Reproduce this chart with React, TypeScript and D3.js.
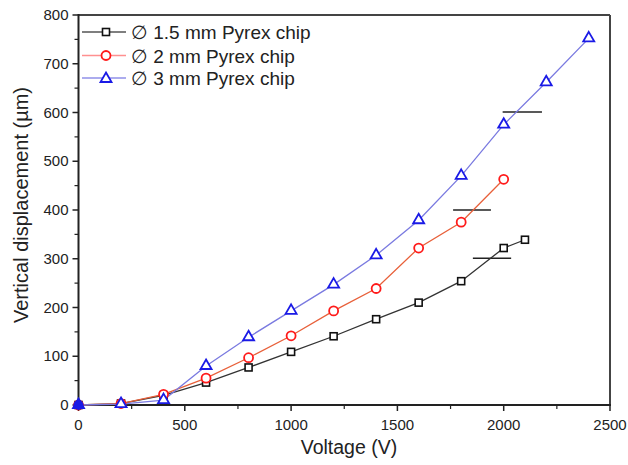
import React from "react";
import * as d3 from "d3";

const voltage15 = [0, 200, 400, 600, 800, 1000, 1200, 1400, 1600, 1800, 2000, 2100];
const disp15 = [0, 3, 20, 46, 77, 109, 141, 176, 210, 254, 322, 339];
const voltage2 = [0, 200, 400, 600, 800, 1000, 1200, 1400, 1600, 1800, 2000];
const disp2 = [0, 3, 22, 55, 97, 142, 193, 239, 322, 375, 463];
const voltage3 = [0, 200, 400, 600, 800, 1000, 1200, 1400, 1600, 1800, 2000, 2200, 2400];
const disp3 = [0, 2, 10, 80, 139, 193, 247, 307, 379, 470, 575, 662, 752];
const seriesNames = ["\u2205 1.5 mm Pyrex chip", "\u2205 2 mm Pyrex chip", "\u2205 3 mm Pyrex chip"];
// annotation bars: [x0, x1, y]
const markBars = [
  [1855, 2035, 301],
  [1762, 1940, 400],
  [1995, 2180, 601],
];
const xTicks = [0, 500, 1000, 1500, 2000, 2500];
const yTicks = [0, 100, 200, 300, 400, 500, 600, 700, 800];

const W = 628, H = 465;
const L = 78.5, R = 610, T = 15, B = 405;
const font = "Liberation Sans, Arial, sans-serif";

export default function App() {
  const x = d3.scaleLinear().domain([0, 2500]).range([L, R]);
  const y = d3.scaleLinear().domain([0, 800]).range([B, T]);
  const line = d3.line<[number, number]>().x(d => x(d[0])).y(d => y(d[1]));
  const s1 = voltage15.map((v, i) => [v, disp15[i]] as [number, number]);
  const s2 = voltage2.map((v, i) => [v, disp2[i]] as [number, number]);
  const s3 = voltage3.map((v, i) => [v, disp3[i]] as [number, number]);
  const xMinor = d3.range(250, 2500, 500);
  const yMinor = d3.range(50, 800, 100);

  const square = (cx: number, cy: number, k: string) => (
    <rect key={k} x={cx - 3.5} y={cy - 3.5} width={7} height={7} fill="white" stroke="#111" strokeWidth={1.6} />
  );
  const circle = (cx: number, cy: number, k: string) => (
    <circle key={k} cx={cx} cy={cy} r={4.5} fill="white" stroke="#ff1a1a" strokeWidth={1.8} />
  );
  const tri = (cx: number, cy: number, k: string) => (
    <path key={k} d={`M${cx},${cy - 5.5}L${cx + 5.5},${cy + 4}L${cx - 5.5},${cy + 4}Z`} fill="white" stroke="#1a1ae6" strokeWidth={1.8} />
  );

  const legendY = [32, 55.5, 78];
  const legendMarkers = [square, circle, tri];
  const legendLineColors = ["#555", "#ff9090", "#9090e8"];

  return (
    <svg width={W} height={H} style={{ position: "absolute", left: 0, top: 0, background: "white" }}>
      <rect x={0} y={0} width={W} height={H} fill="white" />
      {/* frame */}
      <line x1={L} y1={T} x2={R} y2={T} stroke="#444" strokeWidth={2} />
      <line x1={R} y1={T} x2={R} y2={B} stroke="#444" strokeWidth={2} />
      <line x1={L} y1={B} x2={R + 1} y2={B} stroke="#222" strokeWidth={2} />
      <line x1={L} y1={T - 1} x2={L} y2={B} stroke="#222" strokeWidth={2} />
      {/* x ticks */}
      {xTicks.map(t => (
        <g key={"xt" + t}>
          <line x1={x(t)} x2={x(t)} y1={B} y2={B + 6} stroke="#222" strokeWidth={1.5} />
          <text x={x(t)} y={B + 25} textAnchor="middle" fontFamily={font} fontSize={15} fill="#222">{t}</text>
        </g>
      ))}
      {xMinor.map(t => (
        <line key={"xm" + t} x1={x(t)} x2={x(t)} y1={B} y2={B + 4} stroke="#222" strokeWidth={1.2} />
      ))}
      {/* y ticks */}
      {yTicks.map(t => (
        <g key={"yt" + t}>
          <line x1={L - 6} x2={L} y1={y(t)} y2={y(t)} stroke="#222" strokeWidth={1.5} />
          <text x={L - 10} y={y(t) + 5} textAnchor="end" fontFamily={font} fontSize={15} fill="#222">{t}</text>
        </g>
      ))}
      {yMinor.map(t => (
        <line key={"ym" + t} x1={L - 4} x2={L} y1={y(t)} y2={y(t)} stroke="#222" strokeWidth={1.2} />
      ))}
      {/* axis titles */}
      <text x={349} y={454} textAnchor="middle" fontFamily={font} fontSize={19.5} fill="#222">Voltage (V)</text>
      <text transform={`translate(28,205) rotate(-90)`} textAnchor="middle" fontFamily={font} fontSize={20} fill="#222">Vertical displacement (µm)</text>
      {/* annotation bars */}
      {markBars.map((b, i) => (
        <line key={"mb" + i} x1={x(b[0])} x2={x(b[1])} y1={y(b[2])} y2={y(b[2])} stroke="#222" strokeWidth={1.5} />
      ))}
      {/* series lines */}
      <path d={line(s1) || ""} fill="none" stroke="#333" strokeWidth={1.3} />
      <path d={line(s2) || ""} fill="none" stroke="#e8603a" strokeWidth={1.3} />
      <path d={line(s3) || ""} fill="none" stroke="#7a7ae0" strokeWidth={1.3} />
      {/* markers */}
      {s1.map((d, i) => square(x(d[0]), y(d[1]), "s1" + i))}
      {s2.map((d, i) => circle(x(d[0]), y(d[1]), "s2" + i))}
      {s3.map((d, i) => tri(x(d[0]), y(d[1]) - 1, "s3" + i))}
      <circle cx={x(0)} cy={y(0)} r={5} fill="#1a1ae6" />
      {/* legend */}
      {seriesNames.map((n, i) => (
        <g key={"lg" + i}>
          <line x1={82} x2={126} y1={legendY[i]} y2={legendY[i]} stroke={legendLineColors[i]} strokeWidth={1.5} />
          {legendMarkers[i](106, legendY[i], "lm" + i)}
          <text x={131} y={legendY[i] + 7} fontFamily={font} fontSize={19} fill="#222">{n}</text>
        </g>
      ))}
    </svg>
  );
}
